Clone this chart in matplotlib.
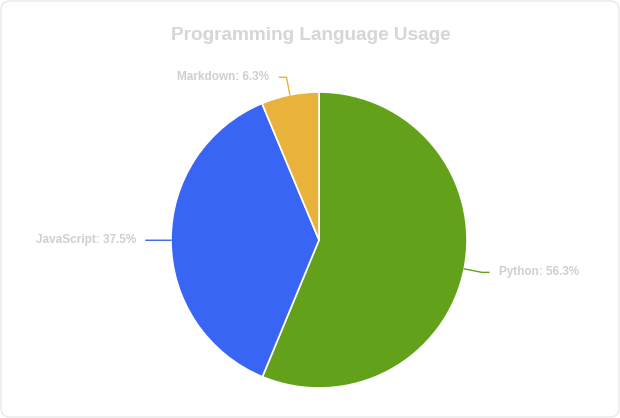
import matplotlib.pyplot as plt
import numpy as np
from matplotlib.patches import FancyBboxPatch

languages = ['Python', 'JavaScript', 'Markdown']
shares = [56.3, 37.5, 6.3]
colors = ['#64a11a', '#3965f4', '#e8b23b']

W, H = 620, 418
fig = plt.figure(figsize=(W / 100, H / 100), dpi=100)
fig.patch.set_facecolor('white')
ax = fig.add_axes([0, 0, 1, 1])

# card background
card = FancyBboxPatch((1, 1), W - 2, H - 2, boxstyle='round,pad=0,rounding_size=9',
                      facecolor='white', edgecolor='#ececec', linewidth=1.2, zorder=0)
ax.add_patch(card)

cx, cy, r = 319, H - 240, 148
wedges, _ = ax.pie(shares, colors=colors, startangle=90, counterclock=False,
                   center=(cx, cy), radius=r, frame=True,
                   wedgeprops=dict(edgecolor='white', linewidth=1.2))
ax.set_xlim(0, W)
ax.set_ylim(0, H)
ax.axis('off')

font = 'Liberation Sans'
for w, name, val, col in zip(wedges, languages, shares, colors):
    ang = np.deg2rad((w.theta1 + w.theta2) / 2)
    dx, dy = np.cos(ang), np.sin(ang)
    p0 = (cx + r * dx, cy + r * dy)
    p1 = (cx + (r + 18) * dx, cy + (r + 18) * dy)
    side = 1 if dx >= 0 else -1
    p2 = (p1[0] + 7 * side, p1[1])
    ax.plot([p0[0], p1[0], p2[0]], [p0[1], p1[1], p2[1]], color=col, lw=1, zorder=3)
    ax.text(p2[0] + 10 * side, p2[1], f'{name}: {val}%', ha='left' if side > 0 else 'right',
            va='center', fontsize=8.5, fontweight='bold', color='#cfcfcf', family=font)

ax.text(311, H - 35, 'Programming Language Usage', ha='center', va='center',
        fontsize=13.7, fontweight='bold', color='#d6d6d6', family=font)

fig.savefig('out.png', dpi=100)
